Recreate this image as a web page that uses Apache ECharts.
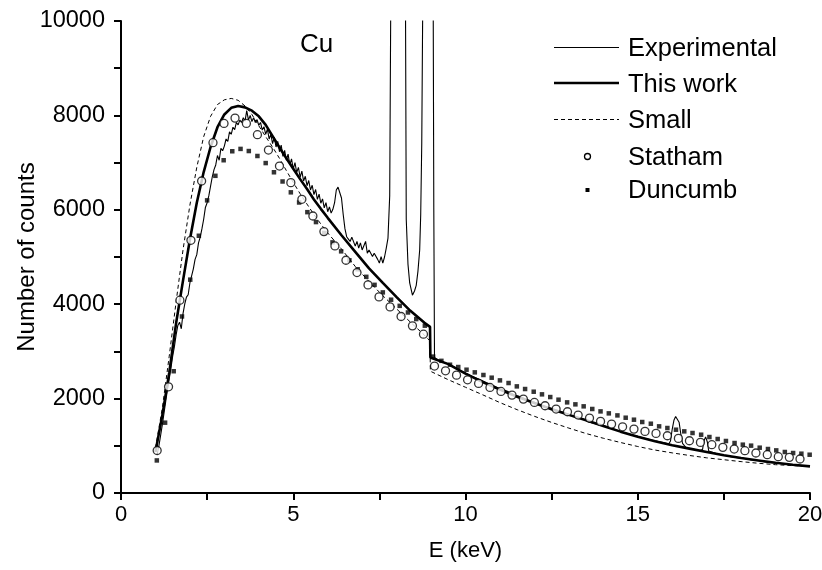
<!DOCTYPE html>
<html><head><meta charset="utf-8">
<script src="https://cdn.jsdelivr.net/npm/echarts@6/dist/echarts.min.js"></script>
<style>html,body{margin:0;padding:0;background:#fff}#c{width:822px;height:570px}</style>
</head><body><div id="c"></div>
<script>
// ---- Experimental spectrum ----
const expE = [1.05,1.10,1.15,1.20,1.25,1.30,1.35,1.40,1.45,1.50,1.55,1.60,1.65,1.70,1.75,1.80,1.85,1.90,1.95,
2.00,2.05,2.10,2.15,2.20,2.25,2.30,2.35,2.40,2.45,2.50,2.55,2.60,2.65,2.70,2.75,2.80,2.85,2.90,2.95,
3.00,3.05,3.10,3.15,3.20,3.25,3.30,3.35,3.40,3.45,3.50,3.55,3.60,3.65,3.70,3.75,3.80,3.85,3.90,3.95,
4.00,4.05,4.10,4.15,4.20,4.25,4.30,4.35,4.40,4.45,4.50,4.55,4.60,4.65,4.70,4.75,4.80,4.85,4.90,4.95,
5.00,5.05,5.10,5.15,5.20,5.25,5.30,5.35,5.40,5.45,5.50,5.55,5.60,5.65,5.70,5.75,5.80,5.85,5.90,5.95,
6.00,6.05,6.10,6.15,6.20,6.25,6.30,6.35,6.40,6.45,6.50,6.55,6.60,6.65,6.70,6.75,6.80,6.85,6.90,6.95,
7.00,7.05,7.10,7.15,7.20,7.25,7.30,7.35,7.40,7.45,7.50,7.55,7.60,7.65,7.70,7.75,7.80,7.82,7.85,7.90,
8.04,8.18,8.23,8.26,8.28,8.33,8.38,8.46,8.52,8.57,8.62,8.67,8.70,8.73,8.76,8.82,8.90,9.00,9.06,9.08,9.10,
9.2,9.3,9.4,9.5,9.6,9.7,9.8,9.9,10.0,10.2,10.4,10.6,10.8,11.0,11.2,11.4,11.6,11.8,12.0,12.2,12.4,12.6,12.8,
13.0,13.2,13.4,13.6,13.8,14.0,14.2,14.4,14.6,14.8,15.0,15.2,15.4,15.6,15.8,15.9,15.95,16.0,16.05,16.1,16.15,
16.2,16.25,16.3,16.4,16.6,16.8,16.88,16.92,16.97,17.02,17.06,17.1,17.3,17.5,17.7,17.9,18.1,18.3,18.5,18.7,
18.9,19.1,19.3,19.5,19.7,19.9,20.0];
const expV = [820,1000,1220,1450,1700,1950,2200,2420,2650,2900,3100,3350,3550,3620,3480,3800,4000,4150,4200,
4450,4600,4750,4950,5050,5300,5420,5600,5800,6050,6150,6300,6500,6700,6850,6950,7150,7050,7300,7250,
7350,7500,7450,7650,7600,7750,7700,7850,7800,7900,7850,7950,7880,8100,7900,8000,7870,7950,7850,7910,
7790,7850,7690,7760,7600,7710,7500,7600,7400,7540,7330,7450,7230,7370,7130,7260,7050,7180,6950,7080,
6860,7000,6790,6900,6690,6820,6610,6710,6510,6620,6420,6520,6320,6430,6220,6330,6140,6230,6040,6150,
5960,6060,5930,6010,6150,6420,6480,6450,6250,5900,5600,5430,5380,5330,5420,5400,5230,5330,5190,5300,
5150,5120,5330,5080,5150,5150,5010,5080,5050,4950,4870,5010,4870,5000,5190,5400,6300,9000,13000,22000,
40000,22000,14000,10000,5800,4850,4450,4190,4280,4400,4700,5150,5900,7400,10500,16000,22000,16000,11000,6000,2870,
2820,2790,2760,2740,2690,2660,2610,2570,2540,2470,2410,2340,2280,2210,2160,2080,2040,1970,1920,1860,1810,1770,1720,
1670,1600,1570,1500,1460,1430,1380,1330,1280,1240,1200,1160,1120,1090,1060,1040,1100,1350,1540,1620,1610,
1500,1250,1050,960,930,900,920,1100,1190,1080,890,860,830,800,770,750,730,700,690,660,
640,630,610,600,580,570,560];

// ---- This work (thick) ----
const workE = [1.0,1.2,1.4,1.6,1.8,2.0,2.2,2.4,2.6,2.8,3.0,3.2,3.4,3.6,3.8,4.0,4.2,4.4,4.6,4.8,5.0,5.2,5.4,5.6,5.8,6.0,
6.4,6.8,7.2,7.6,8.0,8.4,8.8,8.97,8.98,9.5,10,10.5,11,11.5,12,12.5,13,13.5,14,14.5,15,15.5,16,16.5,17,17.5,18,18.5,19,19.5,20];
const workV = [870,1650,2550,3600,4500,5370,6150,6800,7330,7750,8020,8160,8200,8170,8100,7980,7800,7560,7320,7090,6870,6650,6440,6220,6020,5830,
5460,5110,4760,4450,4150,3860,3610,3520,2870,2730,2530,2350,2190,2040,1905,1775,1655,1540,1420,1300,1190,1095,1010,940,870,800,740,690,640,600,565];

// ---- Small (dashed) ----
const smallE = [1.0,1.2,1.4,1.6,1.8,2.0,2.2,2.4,2.6,2.8,3.0,3.2,3.4,3.6,3.8,4.0,4.2,4.4,4.6,4.8,5.0,5.2,5.4,5.6,5.8,6.0,
6.4,6.8,7.2,7.6,8.0,8.4,8.8,8.97,8.98,9.5,10,10.5,11,11.5,12,12.5,13,13.5,14,14.5,15,15.5,16,16.5,17,17.5,18,18.5,19,19.5,20];
const smallV = [950,1800,2900,4050,5150,6100,6900,7550,7980,8230,8330,8360,8320,8200,8020,7780,7550,7330,7090,6830,6580,6340,6120,5900,5700,5510,
5170,4800,4480,4180,3900,3620,3350,3220,2580,2400,2240,2080,1915,1765,1625,1495,1375,1260,1160,1070,985,910,850,795,745,705,665,630,600,580,560];

// ---- Statham (open circles) ----
const stathamE = [1.05,1.38,1.71,2.03,2.34,2.67,2.99,3.31,3.64,3.96,4.28,4.60,4.93,5.25,5.57,5.89,6.21,6.53,6.85,7.17,7.49,7.81,8.13,8.46,8.78,
9.10,9.42,9.74,10.06,10.38,10.71,11.03,11.35,11.68,12.00,12.31,12.63,12.96,13.27,13.60,13.92,14.24,14.56,14.89,15.21,15.53,15.86,16.18,16.50,
16.82,17.15,17.47,17.80,18.11,18.43,18.76,19.08,19.40,19.71];
const stathamV = [900,2250,4085,5354,6610,7422,7830,7943,7830,7591,7266,6927,6575,6222,5869,5538,5234,4931,4670,4409,4155,3943,3739,3541,3365,
2690,2589,2497,2398,2321,2236,2152,2074,1989,1919,1848,1778,1721,1651,1587,1517,1460,1403,1354,1305,1263,1213,1157,1107,
1072,1023,967,931,896,847,811,769,755,720];

// ---- Duncumb (filled squares) ----
const duncumbE = [1.04,1.28,1.53,1.77,2.01,2.26,2.50,2.74,2.98,3.23,3.47,3.71,3.96,4.20,4.44,4.69,4.93,5.17,5.41,5.66,5.90,6.14,6.39,6.63,6.87,
7.12,7.36,7.60,7.84,8.09,8.33,8.57,8.82,9.06,9.30,9.55,9.79,10.03,10.27,10.52,10.76,11.00,11.25,11.49,11.73,11.98,12.22,12.46,12.70,12.95,
13.19,13.43,13.68,13.92,14.16,14.41,14.65,14.89,15.13,15.38,15.62,15.86,16.11,16.35,16.59,16.84,17.08,17.32,17.56,17.81,18.05,18.29,18.54,
18.78,19.02,19.27,19.51,19.75,19.99];
const duncumbV = [690,1490,2580,3740,4520,5450,6200,6720,7050,7240,7290,7245,7140,6990,6795,6600,6370,6155,5950,5740,5510,5310,5120,4930,4740,
4580,4410,4250,4095,3965,3825,3685,3545,2890,2800,2718,2669,2612,2556,2500,2443,2386,2330,2259,2203,2146,2090,2033,1977,1920,
1878,1836,1780,1729,1687,1644,1595,1553,1504,1468,1412,1377,1341,1306,1271,1235,1186,1144,1102,1059,1024,1003,960,
932,903,869,847,833,811];

const xTicks = [0,5,10,15,20];
const yTicks = [0,2000,4000,6000,8000,10000];
const legendNames = ['Experimental', 'This work', 'Small', 'Statham', 'Duncumb'];

const zip = (a, b) => a.map((x, i) => [x, b[i]]);
const FONT = 'Liberation Sans';

// legend drawn as graphic elements (not data marks)
const LX1 = 554, LX2 = 619, LTX = 628;
const rowY = [49, 85, 121, 158, 191];
const legendGraphics = [
  {type: 'line', shape: {x1: LX1, y1: 47.5, x2: LX2, y2: 47.5}, style: {stroke: '#000', lineWidth: 1}},
  {type: 'line', shape: {x1: LX1, y1: 83, x2: LX2, y2: 83}, style: {stroke: '#000', lineWidth: 2.6}},
  {type: 'line', shape: {x1: LX1, y1: 119.5, x2: LX2, y2: 119.5}, style: {stroke: '#000', lineWidth: 1, lineDash: [4, 3]}},
  {type: 'circle', shape: {cx: 587.5, cy: 156.5, r: 3}, style: {fill: '#fff', stroke: '#000', lineWidth: 1.3}},
  {type: 'rect', shape: {x: 585.5, y: 188, width: 4, height: 4}, style: {fill: '#000'}}
].concat(legendNames.map((n, i) => ({
  type: 'text', x: LTX, y: rowY[i],
  style: {text: n, fontSize: 25.5, fontFamily: FONT, fill: '#000', verticalAlign: 'middle', align: 'left'}
})));

const chart = echarts.init(document.getElementById('c'), null, {renderer: 'canvas'});
chart.setOption({
  animation: false,
  backgroundColor: '#fff',
  grid: {left: 121, right: 12, top: 21, bottom: 77, containLabel: false, outerBoundsMode: 'none'},
  xAxis: {
    type: 'value', min: xTicks[0], max: xTicks[xTicks.length - 1], interval: 5,
    name: 'E (keV)', nameLocation: 'middle', nameGap: 47, nameMoveOverlap: false,
    nameTextStyle: {fontSize: 22, color: '#000', fontFamily: FONT},
    axisLine: {lineStyle: {color: '#000', width: 2}},
    axisTick: {length: 7, lineStyle: {color: '#000', width: 2}},
    minorTick: {show: true, splitNumber: 2, length: 7, lineStyle: {color: '#000', width: 2}},
    splitLine: {show: false},
    axisLabel: {fontSize: 22, color: '#000', fontFamily: FONT, margin: 11, formatter: v => String(v)}
  },
  yAxis: {
    type: 'value', min: yTicks[0], max: yTicks[yTicks.length - 1], interval: 2000,
    name: 'Number of counts', nameLocation: 'middle', nameGap: 82, nameMoveOverlap: false,
    nameTextStyle: {fontSize: 24, color: '#000', fontFamily: FONT},
    axisLine: {show: true, lineStyle: {color: '#000', width: 2}},
    axisTick: {show: true, length: 7, lineStyle: {color: '#000', width: 2}},
    minorTick: {show: true, splitNumber: 2, length: 7, lineStyle: {color: '#000', width: 2}},
    splitLine: {show: false},
    axisLabel: {fontSize: 23.5, color: '#000', fontFamily: FONT, margin: 16, formatter: v => String(v)}
  },
  graphic: [{
    type: 'text', x: 300, y: 45,
    style: {text: 'Cu', fontSize: 26, fontFamily: FONT, fill: '#000', verticalAlign: 'middle'}
  }].concat(legendGraphics),
  series: [
    {name: 'Experimental', type: 'line', data: zip(expE, expV), symbol: 'none', showSymbol: false,
     lineStyle: {color: '#000', width: 1.1}, itemStyle: {color: '#000'}, z: 2, clip: true},
    {name: 'This work', type: 'line', data: zip(workE, workV), symbol: 'none', showSymbol: false,
     lineStyle: {color: '#000', width: 2.6}, itemStyle: {color: '#000'}, z: 3},
    {name: 'Small', type: 'line', data: zip(smallE, smallV), symbol: 'none', showSymbol: false,
     lineStyle: {color: '#000', width: 1, type: [4, 3]}, itemStyle: {color: '#000'}, z: 3},
    {name: 'Duncumb', type: 'scatter', data: zip(duncumbE, duncumbV), symbol: 'rect', symbolSize: 4.5,
     itemStyle: {color: '#000'}, z: 4},
    {name: 'Statham', type: 'scatter', data: zip(stathamE, stathamV), symbol: 'circle', symbolSize: 8,
     itemStyle: {color: '#fff', borderColor: '#000', borderWidth: 1.3}, z: 5}
  ]
});
</script></body></html>
